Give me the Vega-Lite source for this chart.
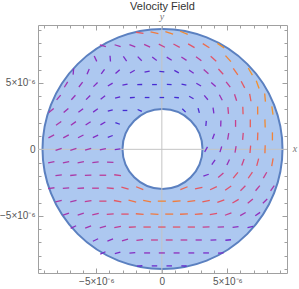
{
  "$schema": "https://vega.github.io/schema/vega-lite/v6.json",
  "width": 249,
  "height": 248,
  "autosize": "none",
  "padding": {"left": 38, "top": 25, "right": 12, "bottom": 16},
  "background": "white",
  "title": {"text": "Velocity Field", "fontSize": 11, "fontWeight": "normal", "font": "Liberation Sans", "color": "#333333", "offset": 0},
  "config": {
    "view": {"stroke": "#a0a0a0", "strokeWidth": 1},
    "axis": {"domain": false, "grid": false, "tickColor": "#a0a0a0", "labelColor": "#555555", "labelFont": "Liberation Sans", "labelFontSize": 10, "labelOverlap": false}
  },
  "resolve": {"axis": {"x": "independent", "y": "independent"}},
  "layer": [
    {
      "data": {"values": [{"ro": 9, "ri": 3}]},
      "mark": {"type": "arc", "theta": 0, "theta2": 6.2832, "fill": "#adc8f0", "stroke": "#5b80c0", "strokeWidth": 2},
      "encoding": {
        "radius": {"field": "ro", "type": "quantitative", "scale": {"type": "linear", "domain": [0, 9.3], "zero": true}},
        "radius2": {"field": "ri"}
      }
    },
    {
      "data": {"values": [{}]},
      "mark": {"type": "rule", "color": "#c4c4c4", "strokeWidth": 1},
      "encoding": {
        "y": {"datum": 0, "type": "quantitative", "scale": {"domain": [-9.3, 9.35]},
          "axis": {"orient": "right", "values": [-9,-8,-7,-6,-5,-4,-3,-2,-1,0,1,2,3,4,5,6,7,8,9], "labels": false, "title": null,
            "tickSize": {"condition": {"test": "datum.value % 5 === 0", "value": -5}, "value": -3}}}
      }
    },
    {
      "data": {"values": [{}]},
      "mark": {"type": "rule", "color": "#c4c4c4", "strokeWidth": 1},
      "encoding": {
        "x": {"datum": 0, "type": "quantitative", "scale": {"domain": [-9.45, 9.55]},
          "axis": {"orient": "top", "values": [-9,-8,-7,-6,-5,-4,-3,-2,-1,0,1,2,3,4,5,6,7,8,9], "labels": false, "title": null,
            "tickSize": {"condition": {"test": "datum.value % 5 === 0", "value": -5}, "value": -3}}}
      }
    },
    {
      "data": {"values": [
        {"x": -1.6875, "y": 8.766, "a": -8, "s": 0.72}, {"x": -0.5625, "y": 8.766, "a": -12, "s": 0.85}, {"x": 0.5625, "y": 8.766, "a": -18, "s": 0.88}, {"x": 1.6875, "y": 8.766, "a": -22, "s": 0.9},
        {"x": -4.5, "y": 7.792, "a": -15, "s": 0.42}, {"x": -3.375, "y": 7.792, "a": -18, "s": 0.42}, {"x": -2.25, "y": 7.792, "a": -22, "s": 0.42}, {"x": -1.125, "y": 7.792, "a": -25, "s": 0.48}, {"x": 0, "y": 7.792, "a": -27, "s": 0.55}, {"x": 1.125, "y": 7.792, "a": -28, "s": 0.62}, {"x": 2.25, "y": 7.792, "a": -30, "s": 0.7}, {"x": 3.375, "y": 7.792, "a": -32, "s": 0.8}, {"x": 4.5, "y": 7.792, "a": -35, "s": 0.92},
        {"x": -5.0625, "y": 6.818, "a": -65, "s": 0.35}, {"x": -3.9375, "y": 6.818, "a": -85, "s": 0.3}, {"x": -2.8125, "y": 6.818, "a": -55, "s": 0.3}, {"x": -1.6875, "y": 6.818, "a": -45, "s": 0.3}, {"x": -0.5625, "y": 6.818, "a": -38, "s": 0.3}, {"x": 0.5625, "y": 6.818, "a": -32, "s": 0.32}, {"x": 1.6875, "y": 6.818, "a": -33, "s": 0.4}, {"x": 2.8125, "y": 6.818, "a": -37, "s": 0.52}, {"x": 3.9375, "y": 6.818, "a": -42, "s": 0.7}, {"x": 5.0625, "y": 6.818, "a": -48, "s": 0.88},
        {"x": -6.75, "y": 5.844, "a": 85, "s": 0.35}, {"x": -5.625, "y": 5.844, "a": 68, "s": 0.33}, {"x": -4.5, "y": 5.844, "a": 55, "s": 0.3}, {"x": -3.375, "y": 5.844, "a": 42, "s": 0.28}, {"x": -2.25, "y": 5.844, "a": 30, "s": 0.25}, {"x": -1.125, "y": 5.844, "a": 12, "s": 0.2}, {"x": 0, "y": 5.844, "a": -5, "s": 0.15}, {"x": 1.125, "y": 5.844, "a": -28, "s": 0.18}, {"x": 2.25, "y": 5.844, "a": -35, "s": 0.3}, {"x": 3.375, "y": 5.844, "a": -42, "s": 0.45}, {"x": 4.5, "y": 5.844, "a": -48, "s": 0.64}, {"x": 5.625, "y": 5.844, "a": -55, "s": 0.82}, {"x": 6.75, "y": 5.844, "a": -60, "s": 0.93},
        {"x": -7.3125, "y": 4.87, "a": 58, "s": 0.42}, {"x": -6.1875, "y": 4.87, "a": 52, "s": 0.38}, {"x": -5.0625, "y": 4.87, "a": 45, "s": 0.33}, {"x": -3.9375, "y": 4.87, "a": 32, "s": 0.28}, {"x": -2.8125, "y": 4.87, "a": 12, "s": 0.2}, {"x": -1.6875, "y": 4.87, "a": 2, "s": 0.15}, {"x": -0.5625, "y": 4.87, "a": 0, "s": 0.12}, {"x": 0.5625, "y": 4.87, "a": -3, "s": 0.12}, {"x": 1.6875, "y": 4.87, "a": -12, "s": 0.15}, {"x": 2.8125, "y": 4.87, "a": -30, "s": 0.25}, {"x": 3.9375, "y": 4.87, "a": -42, "s": 0.35}, {"x": 5.0625, "y": 4.87, "a": -52, "s": 0.52}, {"x": 6.1875, "y": 4.87, "a": -62, "s": 0.72}, {"x": 7.3125, "y": 4.87, "a": -70, "s": 0.92},
        {"x": -7.875, "y": 3.896, "a": 50, "s": 0.42}, {"x": -6.75, "y": 3.896, "a": 48, "s": 0.38}, {"x": -5.625, "y": 3.896, "a": 45, "s": 0.33}, {"x": -4.5, "y": 3.896, "a": 38, "s": 0.28}, {"x": -3.375, "y": 3.896, "a": 15, "s": 0.2}, {"x": -2.25, "y": 3.896, "a": 5, "s": 0.14}, {"x": -1.125, "y": 3.896, "a": 0, "s": 0.1}, {"x": 0, "y": 3.896, "a": 0, "s": 0.08}, {"x": 1.125, "y": 3.896, "a": -5, "s": 0.1}, {"x": 2.25, "y": 3.896, "a": -30, "s": 0.18}, {"x": 3.375, "y": 3.896, "a": -50, "s": 0.3}, {"x": 4.5, "y": 3.896, "a": -62, "s": 0.4}, {"x": 5.625, "y": 3.896, "a": -72, "s": 0.55}, {"x": 6.75, "y": 3.896, "a": -80, "s": 0.74}, {"x": 7.875, "y": 3.896, "a": -85, "s": 0.9},
        {"x": -8.4375, "y": 2.922, "a": 40, "s": 0.45}, {"x": -7.3125, "y": 2.922, "a": 40, "s": 0.4}, {"x": -6.1875, "y": 2.922, "a": 38, "s": 0.35}, {"x": -5.0625, "y": 2.922, "a": 35, "s": 0.3}, {"x": -3.9375, "y": 2.922, "a": 15, "s": 0.18}, {"x": -2.8125, "y": 2.922, "a": 0, "s": 0.1}, {"x": -1.6875, "y": 2.922, "a": -25, "s": 0.1}, {"x": 1.6875, "y": 2.922, "a": -45, "s": 0.12}, {"x": 2.8125, "y": 2.922, "a": -75, "s": 0.15}, {"x": 3.9375, "y": 2.922, "a": -82, "s": 0.3}, {"x": 5.0625, "y": 2.922, "a": -85, "s": 0.55}, {"x": 6.1875, "y": 2.922, "a": -88, "s": 0.72}, {"x": 7.3125, "y": 2.922, "a": 90, "s": 0.87}, {"x": 8.4375, "y": 2.922, "a": -82, "s": 0.94},
        {"x": -7.875, "y": 1.948, "a": 35, "s": 0.45}, {"x": -6.75, "y": 1.948, "a": 35, "s": 0.4}, {"x": -5.625, "y": 1.948, "a": 33, "s": 0.35}, {"x": -4.5, "y": 1.948, "a": 30, "s": 0.28}, {"x": -3.375, "y": 1.948, "a": -20, "s": 0.12}, {"x": 3.375, "y": 1.948, "a": 85, "s": 0.2}, {"x": 4.5, "y": 1.948, "a": 88, "s": 0.35}, {"x": 5.625, "y": 1.948, "a": 90, "s": 0.55}, {"x": 6.75, "y": 1.948, "a": 90, "s": 0.75}, {"x": 7.875, "y": 1.948, "a": -88, "s": 0.9},
        {"x": -8.4375, "y": 0.974, "a": 28, "s": 0.45}, {"x": -7.3125, "y": 0.974, "a": 28, "s": 0.42}, {"x": -6.1875, "y": 0.974, "a": 27, "s": 0.38}, {"x": -5.0625, "y": 0.974, "a": 25, "s": 0.32}, {"x": -3.9375, "y": 0.974, "a": 20, "s": 0.2}, {"x": 3.9375, "y": 0.974, "a": 70, "s": 0.3}, {"x": 5.0625, "y": 0.974, "a": 80, "s": 0.45}, {"x": 6.1875, "y": 0.974, "a": 85, "s": 0.62}, {"x": 7.3125, "y": 0.974, "a": 88, "s": 0.8}, {"x": 8.4375, "y": 0.974, "a": 90, "s": 0.88},
        {"x": -7.875, "y": 0, "a": 18, "s": 0.45}, {"x": -6.75, "y": 0, "a": 18, "s": 0.45}, {"x": -5.625, "y": 0, "a": 16, "s": 0.43}, {"x": -4.5, "y": 0, "a": 12, "s": 0.4}, {"x": -3.375, "y": 0, "a": 8, "s": 0.3}, {"x": 3.375, "y": 0, "a": 60, "s": 0.3}, {"x": 4.5, "y": 0, "a": 72, "s": 0.35}, {"x": 5.625, "y": 0, "a": 80, "s": 0.5}, {"x": 6.75, "y": 0, "a": 85, "s": 0.7}, {"x": 7.875, "y": 0, "a": 88, "s": 0.85},
        {"x": -8.4375, "y": -0.974, "a": 12, "s": 0.45}, {"x": -7.3125, "y": -0.974, "a": 12, "s": 0.45}, {"x": -6.1875, "y": -0.974, "a": 10, "s": 0.45}, {"x": -5.0625, "y": -0.974, "a": 8, "s": 0.45}, {"x": -3.9375, "y": -0.974, "a": -3, "s": 0.45}, {"x": 3.9375, "y": -0.974, "a": 55, "s": 0.3}, {"x": 5.0625, "y": -0.974, "a": 65, "s": 0.38}, {"x": 6.1875, "y": -0.974, "a": 70, "s": 0.58}, {"x": 7.3125, "y": -0.974, "a": 75, "s": 0.7}, {"x": 8.4375, "y": -0.974, "a": 80, "s": 0.82},
        {"x": -7.875, "y": -1.948, "a": 8, "s": 0.45}, {"x": -6.75, "y": -1.948, "a": 5, "s": 0.45}, {"x": -5.625, "y": -1.948, "a": 3, "s": 0.47}, {"x": -4.5, "y": -1.948, "a": 0, "s": 0.5}, {"x": -3.375, "y": -1.948, "a": -8, "s": 0.55}, {"x": 3.375, "y": -1.948, "a": 20, "s": 0.3}, {"x": 4.5, "y": -1.948, "a": 40, "s": 0.55}, {"x": 5.625, "y": -1.948, "a": 50, "s": 0.68}, {"x": 6.75, "y": -1.948, "a": 55, "s": 0.68}, {"x": 7.875, "y": -1.948, "a": 60, "s": 0.55},
        {"x": -8.4375, "y": -2.922, "a": 8, "s": 0.45}, {"x": -7.3125, "y": -2.922, "a": 5, "s": 0.45}, {"x": -6.1875, "y": -2.922, "a": 3, "s": 0.48}, {"x": -5.0625, "y": -2.922, "a": 0, "s": 0.52}, {"x": -3.9375, "y": -2.922, "a": -5, "s": 0.6}, {"x": -2.8125, "y": -2.922, "a": -15, "s": 0.7}, {"x": -1.6875, "y": -2.922, "a": -22, "s": 0.78}, {"x": 1.6875, "y": -2.922, "a": 22, "s": 0.78}, {"x": 2.8125, "y": -2.922, "a": 12, "s": 0.72}, {"x": 3.9375, "y": -2.922, "a": 25, "s": 0.7}, {"x": 5.0625, "y": -2.922, "a": 35, "s": 0.68}, {"x": 6.1875, "y": -2.922, "a": 45, "s": 0.6}, {"x": 7.3125, "y": -2.922, "a": 50, "s": 0.5}, {"x": 8.4375, "y": -2.922, "a": 55, "s": 0.45},
        {"x": -7.875, "y": -3.896, "a": 15, "s": 0.45}, {"x": -6.75, "y": -3.896, "a": 12, "s": 0.45}, {"x": -5.625, "y": -3.896, "a": 8, "s": 0.52}, {"x": -4.5, "y": -3.896, "a": 0, "s": 0.62}, {"x": -3.375, "y": -3.896, "a": -10, "s": 0.72}, {"x": -2.25, "y": -3.896, "a": -15, "s": 0.82}, {"x": -1.125, "y": -3.896, "a": -10, "s": 0.86}, {"x": 0, "y": -3.896, "a": 0, "s": 0.88}, {"x": 1.125, "y": -3.896, "a": 5, "s": 0.86}, {"x": 2.25, "y": -3.896, "a": 8, "s": 0.82}, {"x": 3.375, "y": -3.896, "a": 12, "s": 0.75}, {"x": 4.5, "y": -3.896, "a": 20, "s": 0.7}, {"x": 5.625, "y": -3.896, "a": 30, "s": 0.65}, {"x": 6.75, "y": -3.896, "a": 40, "s": 0.52}, {"x": 7.875, "y": -3.896, "a": 45, "s": 0.4},
        {"x": -7.3125, "y": -4.87, "a": 20, "s": 0.42}, {"x": -6.1875, "y": -4.87, "a": 18, "s": 0.45}, {"x": -5.0625, "y": -4.87, "a": 12, "s": 0.5}, {"x": -3.9375, "y": -4.87, "a": 5, "s": 0.58}, {"x": -2.8125, "y": -4.87, "a": 0, "s": 0.68}, {"x": -1.6875, "y": -4.87, "a": -5, "s": 0.8}, {"x": -0.5625, "y": -4.87, "a": -3, "s": 0.85}, {"x": 0.5625, "y": -4.87, "a": 0, "s": 0.85}, {"x": 1.6875, "y": -4.87, "a": 2, "s": 0.82}, {"x": 2.8125, "y": -4.87, "a": 5, "s": 0.78}, {"x": 3.9375, "y": -4.87, "a": 10, "s": 0.68}, {"x": 5.0625, "y": -4.87, "a": 20, "s": 0.55}, {"x": 6.1875, "y": -4.87, "a": 30, "s": 0.42}, {"x": 7.3125, "y": -4.87, "a": 35, "s": 0.35},
        {"x": -6.75, "y": -5.844, "a": 25, "s": 0.35}, {"x": -5.625, "y": -5.844, "a": 20, "s": 0.42}, {"x": -4.5, "y": -5.844, "a": 15, "s": 0.45}, {"x": -3.375, "y": -5.844, "a": 10, "s": 0.52}, {"x": -2.25, "y": -5.844, "a": 3, "s": 0.6}, {"x": -1.125, "y": -5.844, "a": 0, "s": 0.68}, {"x": 0, "y": -5.844, "a": 0, "s": 0.7}, {"x": 1.125, "y": -5.844, "a": 0, "s": 0.7}, {"x": 2.25, "y": -5.844, "a": 0, "s": 0.65}, {"x": 3.375, "y": -5.844, "a": 2, "s": 0.55}, {"x": 4.5, "y": -5.844, "a": 3, "s": 0.45}, {"x": 5.625, "y": -5.844, "a": 8, "s": 0.35}, {"x": 6.75, "y": -5.844, "a": 12, "s": 0.3},
        {"x": -5.0625, "y": -6.818, "a": 25, "s": 0.32}, {"x": -3.9375, "y": -6.818, "a": 20, "s": 0.35}, {"x": -2.8125, "y": -6.818, "a": 15, "s": 0.42}, {"x": -1.6875, "y": -6.818, "a": 5, "s": 0.5}, {"x": -0.5625, "y": -6.818, "a": 0, "s": 0.55}, {"x": 0.5625, "y": -6.818, "a": 0, "s": 0.55}, {"x": 1.6875, "y": -6.818, "a": 0, "s": 0.5}, {"x": 2.8125, "y": -6.818, "a": 0, "s": 0.4}, {"x": 3.9375, "y": -6.818, "a": 3, "s": 0.32}, {"x": 5.0625, "y": -6.818, "a": 5, "s": 0.28},
        {"x": -4.5, "y": -7.792, "a": 25, "s": 0.3}, {"x": -3.375, "y": -7.792, "a": 15, "s": 0.3}, {"x": -2.25, "y": -7.792, "a": 5, "s": 0.32}, {"x": -1.125, "y": -7.792, "a": 0, "s": 0.35}, {"x": 0, "y": -7.792, "a": 0, "s": 0.38}, {"x": 1.125, "y": -7.792, "a": 0, "s": 0.35}, {"x": 2.25, "y": -7.792, "a": 0, "s": 0.32}, {"x": 3.375, "y": -7.792, "a": 0, "s": 0.3}, {"x": 4.5, "y": -7.792, "a": 3, "s": 0.28},
        {"x": -1.6875, "y": -8.766, "a": 3, "s": 0.22}, {"x": -0.5625, "y": -8.766, "a": 0, "s": 0.25}, {"x": 0.5625, "y": -8.766, "a": 0, "s": 0.25}, {"x": 1.6875, "y": -8.766, "a": -2, "s": 0.22}
      ]},
      "mark": {"type": "point", "shape": "stroke", "filled": false, "strokeWidth": 1.3, "opacity": 1},
      "encoding": {
        "x": {"field": "x", "type": "quantitative", "scale": {"domain": [-9.45, 9.55]},
          "axis": {"orient": "bottom", "values": [-9,-8,-7,-6,-5,-4,-3,-2,-1,0,1,2,3,4,5,6,7,8,9], "title": null, "labelPadding": 8,
            "labelExpr": "datum.value === 0 ? '0' : datum.value === 5 ? '5×10⁻⁶' : datum.value === -5 ? '−5×10⁻⁶' : ''",
            "tickSize": {"condition": {"test": "datum.value % 5 === 0", "value": -5}, "value": -3}}},
        "y": {"field": "y", "type": "quantitative", "scale": {"domain": [-9.3, 9.35]},
          "axis": {"orient": "left", "values": [-9,-8,-7,-6,-5,-4,-3,-2,-1,0,1,2,3,4,5,6,7,8,9], "title": null, "labelPadding": 8,
            "labelExpr": "datum.value === 0 ? '0' : datum.value === 5 ? '5×10⁻⁶' : datum.value === -5 ? '−5×10⁻⁶' : ''",
            "tickSize": {"condition": {"test": "datum.value % 5 === 0", "value": -5}, "value": -3}}},
        "angle": {"field": "a", "type": "quantitative", "scale": {"domain": [-90, 90], "range": [90, -90]}},
        "color": {"field": "s", "type": "quantitative", "legend": null,
          "scale": {"domain": [0, 0.15, 0.3, 0.45, 0.6, 0.75, 0.9, 1], "range": ["#2f2fd8", "#4a2ad0", "#7a2cc8", "#a93aa8", "#cf4a80", "#e85f58", "#f08a30", "#f5a820"]}},
        "size": {"field": "s", "type": "quantitative", "legend": null, "scale": {"domain": [0, 1], "range": [16, 72]}}
      }
    },
    {
      "data": {"values": [{}]},
      "mark": {"type": "text", "text": "x", "fontStyle": "italic", "font": "Liberation Serif", "fontSize": 10, "color": "#777777", "dx": 8, "clip": false},
      "encoding": {
        "x": {"datum": 9.55, "type": "quantitative", "scale": {"domain": [-9.45, 9.55]}, "axis": null},
        "y": {"datum": 0, "type": "quantitative", "scale": {"domain": [-9.3, 9.35]}, "axis": null}
      }
    },
    {
      "data": {"values": [{}]},
      "mark": {"type": "text", "text": "y", "fontStyle": "italic", "font": "Liberation Serif", "fontSize": 10, "color": "#777777", "dy": -8, "clip": false},
      "encoding": {
        "x": {"datum": 0, "type": "quantitative", "scale": {"domain": [-9.45, 9.55]}, "axis": null},
        "y": {"datum": 9.35, "type": "quantitative", "scale": {"domain": [-9.3, 9.35]}, "axis": null}
      }
    }
  ]
}
